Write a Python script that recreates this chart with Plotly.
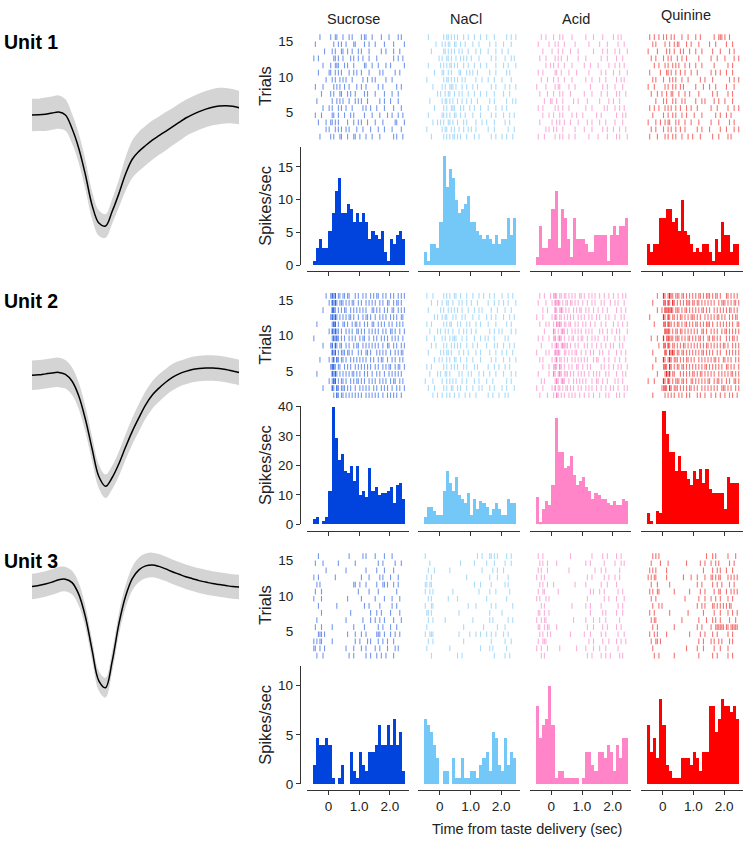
import plotly.graph_objects as go

W, H = 744, 845
FONT = "Liberation Sans, Arial, Helvetica, sans-serif"

# ---------------- data ----------------
tastes = ["Sucrose", "NaCl", "Acid", "Quinine"]
taste_colors = ["#0044DD", "#73C8F8", "#FF85C8", "#FF0000"]
raster_rgb = ["0,68,221", "100,190,245", "245,110,190", "235,0,0"]
units = ["Unit 1", "Unit 2", "Unit 3"]

bin_centers = [-0.45, -0.35, -0.25, -0.15, -0.05, 0.05, 0.15, 0.25, 0.35, 0.45,
               0.55, 0.65, 0.75, 0.85, 0.95, 1.05, 1.15, 1.25, 1.35, 1.45,
               1.55, 1.65, 1.75, 1.85, 1.95, 2.05, 2.15, 2.25, 2.35, 2.45]
bin_width = 0.1

raster_times = [-0.475, -0.425, -0.375, -0.325, -0.275, -0.225, -0.175, -0.125, -0.075, -0.025,
                0.025, 0.075, 0.125, 0.175, 0.225, 0.275, 0.325, 0.375, 0.425, 0.475,
                0.525, 0.575, 0.625, 0.675, 0.725, 0.775, 0.825, 0.875, 0.925, 0.975,
                1.025, 1.075, 1.125, 1.175, 1.225, 1.275, 1.325, 1.375, 1.425, 1.475,
                1.525, 1.575, 1.625, 1.675, 1.725, 1.775, 1.825, 1.875, 1.925, 1.975,
                2.025, 2.075, 2.125, 2.175, 2.225, 2.275, 2.325, 2.375, 2.425, 2.475]

trial_ticks = [5, 10, 15]
time_ticks = [0, 1, 2]
time_ticktext = ["0", "1.0", "2.0"]
rate_ticks_u1 = [0, 5, 10, 15]
rate_ticks_u2 = [0, 10, 20, 30, 40]
rate_ticks_u3 = [0, 5, 10]

psth_u1_sucrose = [0.67, 2.67, 4.0, 2.67, 2.67, 5.33, 8.0, 11.33, 13.33, 8.0,
                   8.0, 9.33, 8.67, 6.67, 8.0, 6.67, 8.0, 6.67, 4.0, 5.33,
                   4.67, 4.0, 5.33, 2.0, 0.67, 4.0, 3.33, 4.67, 5.33, 4.0]
psth_u1_nacl = [2.0, 0.67, 3.33, 3.33, 2.67, 6.67, 16.67, 12.0, 14.67, 13.33,
                10.0, 8.0, 8.67, 9.33, 10.67, 6.67, 6.67, 5.33, 4.67, 4.0,
                4.67, 4.0, 3.33, 4.67, 3.33, 4.0, 4.0, 7.33, 4.67, 7.33]
psth_u1_acid = [1.33, 6.0, 2.67, 2.67, 4.0, 8.67, 11.33, 2.67, 8.67, 7.33,
                4.0, 1.33, 7.33, 4.0, 4.0, 4.0, 3.33, 2.0, 2.0, 4.67,
                4.67, 4.67, 4.67, 0.67, 4.67, 6.0, 4.67, 6.0, 6.0, 7.33]
psth_u1_quinine = [3.33, 2.0, 3.33, 3.33, 7.33, 7.33, 8.67, 8.67, 6.67, 7.33,
                   5.33, 10.0, 5.33, 4.67, 3.33, 2.0, 2.67, 2.0, 3.33, 3.33,
                   2.0, 0.67, 4.0, 2.0, 6.67, 4.67, 4.67, 2.0, 3.33, 3.33]
psth_u2_sucrose = [2.0, 2.67, 0.0, 1.33, 2.67, 11.33, 40.0, 29.33, 22.0, 24.0,
                   18.0, 17.33, 20.0, 14.67, 20.0, 10.0, 11.33, 9.33, 19.33, 11.33,
                   12.67, 10.0, 10.67, 10.67, 11.33, 12.67, 7.33, 13.33, 14.0, 8.67]
psth_u2_nacl = [2.67, 6.0, 6.0, 4.67, 3.33, 3.33, 11.33, 18.0, 14.0, 11.33,
                16.0, 10.0, 8.67, 7.33, 10.67, 3.33, 8.67, 5.33, 8.0, 7.33,
                6.0, 3.33, 5.33, 7.33, 5.33, 3.33, 3.33, 8.67, 7.33, 7.33]
psth_u2_acid = [9.33, 0.67, 5.33, 8.0, 6.67, 13.33, 36.0, 24.67, 24.67, 19.33,
                20.0, 23.33, 16.67, 13.33, 14.67, 16.0, 12.67, 11.33, 8.67, 10.67,
                10.0, 8.67, 8.67, 7.33, 6.67, 8.0, 6.67, 6.67, 8.67, 8.0]
psth_u2_quinine = [4.0, 1.33, 0.0, 4.67, 4.0, 38.67, 30.67, 24.67, 24.67, 18.0,
                   23.33, 18.0, 18.0, 15.33, 13.33, 18.0, 15.33, 18.67, 14.0, 18.67,
                   12.0, 10.67, 10.67, 10.67, 10.67, 5.33, 16.0, 14.0, 14.0, 14.0]
psth_u3_sucrose = [2.0, 4.67, 4.0, 4.0, 4.67, 4.0, 0.67, 0.0, 0.67, 2.0,
                   0.0, 0.0, 3.33, 1.33, 0.67, 3.33, 2.0, 1.33, 3.33, 3.33,
                   4.0, 6.0, 4.0, 4.0, 6.0, 4.0, 6.67, 4.0, 5.33, 1.33]
psth_u3_nacl = [6.67, 6.0, 5.33, 4.0, 2.67, 0.0, 1.33, 1.33, 0.0, 2.67,
                0.67, 0.67, 2.67, 0.67, 0.67, 1.33, 1.33, 0.67, 2.0, 2.67,
                3.33, 1.33, 5.33, 4.67, 2.0, 1.33, 4.67, 2.0, 3.33, 2.67]
psth_u3_acid = [8.0, 4.67, 6.0, 6.67, 10.0, 6.0, 0.67, 1.33, 1.33, 0.67,
                0.67, 0.67, 0.67, 0.67, 0.0, 0.67, 3.33, 3.33, 2.0, 1.33,
                3.33, 3.33, 2.67, 4.0, 3.33, 1.33, 4.0, 2.67, 4.67, 4.67]
psth_u3_quinine = [6.0, 3.33, 4.67, 2.67, 8.67, 6.0, 2.0, 1.33, 0.67, 0.67,
                   0.67, 2.67, 2.67, 2.67, 2.0, 3.33, 2.67, 1.33, 3.33, 3.33,
                   8.0, 8.0, 5.33, 6.67, 8.67, 8.0, 8.0, 7.33, 8.0, 6.67]

raster_u1_sucrose = [
    "....|..... .|..||...| ...|.|.....| .||...|... ..|....|.. ...|.|....",
    ".|........ ...|..|.|. .|....||.. ...|..|... |.....|... ..|......|",
    ".......|.. ..|.|...|| ..|..|...|. |....|.... ...|..|... .|...|....",
    "|..|...... ...||.|..| ....|.|..| ..|...|... .|........ ..|..|..|.",
    "......|... .|..|||... |.|...|... ...||...|. ..|....|.. |........|",
    "...|...... ||..|.|.|. ...|..|.|. .|....|... ...|.|.... ...|..|...",
    "........|. ..|.|..|.| .|...|.... ..|..|..|. |......|.. .|........",
    ".|....|... ...|.|.|.. |..|....|. .|..|..... ..|..|.... ....|..|..",
    ".....|.... .|.|...||. ..|.|..|.. ...|.|.... |.....|... .|...|....",
    "..|....... ..|..|.|.| ...|...|.| .|...|.... ...|..|... |....|....",
    "......|... |.|...|.|. .|...|.... ..|.|..|.. .|....|... ..|....|..",
    ".|...|.... ..||..|... |...|.|... ...|....|. ...|....|. .|...|..|.",
    "...|....|. .||.|.|... ..|...|..| .|...|.... |....|.... ...||....|",
    "........|. |...|.|.|. .|.|....|. ..|....|.. ..|...|... .|.....|..",
    "....|..... .|.|...||. ..|...||.. |...|...|. ...|...... ..|.|...|.",
]
raster_u1_nacl = [
    "..|....... ..|.||.|.| .|...|..|. ..|...|... |....|.... ...|..|..|",
    ".......|.. .|.|.||..| |..|..|... .|...|.... ..|...|... .|....|...",
    "....|..... ..||.|.|.| ..|.|...|. ...|..|... .|....|... |...|.....",
    ".........| .|..||.|.. |..|.|.|.. |....|.... ...|..|... ..|...|.|.",
    "..|....... |.|.|.||.| .|...|..|. ..|...|... |.....|... .|..|....|",
    "......|... .||..|.|.. ..||...|.| .|..|..... ..|...|... ...|.|....",
    ".|........ ..|.||.|.| .|..|.|... ...|...|.. .|...|.... |.....|...",
    ".....|.... .|.|..|||. |...|..|.. .|..|..... ...|..|... ..|..|...|",
    "........|. |..|.||..| ..|.|...|. ..|...|... |....|.... .|...|....",
    "...|...... .|.||.|.|. .|..|..|.. |...|..... ..|..|.... ...|...|.|",
    "......|... ..|.|..||| ...|.|...| ..|...|... .|....|... |..|......",
    "..|....... .||.|.|..| |..|..|... .|....|... ...|..|... .|...|..|.",
    ".....|..|. |.|..||.|. .|...|.|.. ...|...|.. |....|.... ..|..|....",
    ".|........ .|.||..|.| ..|..|..|. |..|...... .|...|.... ....|...|.",
    "....|..... ..|.|.|.|| .|.|...|.. ..|..|.... ...|..|... |..|...|..",
]
raster_u1_acid = [
    "...|..|... .|...|.|.. ...|...... ..|....|.. ...|...... |..|.|....",
    ".|......|. ..|.|...|. .....|.... ....|..... .|....|... ...|...|..",
    "....|..... |...|..|.. ..|....|.. .......|.. ...|..|... .|..|....|",
    "..|...|... ..|.|.|... |......|.. ..|....... ..|...|... ..|...|...",
    "......|..| .|..|...|. ...|...... .|...|.... |......|.. .|..|..|..",
    ".|..|..... ..||..|... .|....|... ....|..... ..|..|.... |...|....|",
    "...|...|.. .|..|...|. ...|...... ..|...|... .|...|.... ..|..|.|..",
    "|.....|... ..|.||.... .|...|.... .....|.... ...|..|... .|....|...",
    "..|....|.. .|...|.|.. ..|....... .|....|... ..|...|... ..|.|...|.",
    ".....|...| |..|...|.. ....|..|.. ...|...... .|.....|.. |...|.....",
    ".|..|..... ..|.|..|.. .|........ ..|...|... ....|.|... .|..|..|..",
    "....|...|. .|...|.|.. ...|..|... |........| ..|....... ..|...|.|.",
    "..|....... |..|.|..|. ..|....|.. ...|..|... .|...|.... .|....|...",
    "......|.|. .|.|...|.. .....|.... .|....|... ...|..|... |...|...|.",
    ".|...|.... ..|..|.|.. .|...|.... ....|..... |.....|... ..|.|....|",
]
raster_u1_quinine = [
    ".|..|..|.. |.|..|.|.. ..|...|... .|..|..... ...|..|||. |..|......",
    "...|.|.... .|..|..|.| |....|..|. ...|...... |...|..... .|...|....",
    "|.....|... ..|.|..|.. .|.|...|.. .|...|.... ..|....|.. ...|..|...",
    "..|..|.... |..|.|...| ..|..|.... ...|...... .|...|.... |.....|..|",
    "....|..|.. .|.|..|.|. |...|..|.. .|...|.... ...|...... ..|..|....",
    ".|......|. ..||.|..|. .|..|...|. ..|....... .|..|..|.. .|...|....",
    "...|.|.... |...|.|.|. ..|...|... ....|..|.. ..|....... ...|..|..|",
    "|...|..... .|.|..|.|. .|.|...... .|....|... |...|..... .|....|...",
    "..|...|..| ..|..||... |...|..|.. ...|...... ..|..|.... ..|..|....",
    ".....|.... |.|...|.|. ..|.|..... .|...|.|.. ...|..|... |....|....",
    ".|..|..|.. .|.|.|..|. .|...|..|. ..|....... .|...|.... ..|...|..|",
    "...|...... |..|..|.|. ..|..|.... |....|.... ....|..|.. .|..|.....",
    "|....|..|. .|.||...|. |...|...|. ...|...... .|....|... ...|..|...",
    "..|..|.... |..|.|..|. .|..|..... ..|..|.... |......|.. .|....|..|",
    ".|....|... .|.|..|.|. ..|...|..| ....|..... ..|...|... ..|.|.....",
]
raster_u2_sucrose = [
    "........|. .|2|2.||.| |.||...|.| ..|.|..|.| .||..|.|.. |.|..|.|.|",
    ".......... |.2|2|.||| .|.|.||..| .|..|.|.|. |..|.|..|| ..|.||.|..",
    "......|... ..22|.|.|. ||..|.|.|. |.|.|...|| .|.|..|.|. .||..|.|.|",
    ".......... .|2|2|.|.| .|.||.|..| ..|.||.|.. |..|.|.|.. |.|.|..||.",
    "..|....... ..|22.|..| |.|..|.||. |..|.|..|| ..|.|.|..| .|..|.|.|.",
    ".......... |.2|2||.|. .|.|.|..|| .|.|..|.|. |.|..|.|.. ||.|..|..|",
    "|......... ..|2|2|.|. |..|.|.|.. |.||..|..| .|..|.|.|. .|.|.|..|.",
    "......|... .|2.2|.||. .|.|..|.|| ..|.|.|.|. |.|..|..|| ..|.|..|.|",
    ".......... ..2|2.|.|| |.||.|...| .|..||.|.. .|.|.|.|.. |..|.|.||.",
    "....|..... |.|2.2|.|| .|..|.|.|. |.|.|..|.| ..|.||..|. .|.|..|.|.",
    ".......... .|22|.||.. |.|.|..|.| .|.|.|.|.. |.|..|.|.| |..|.||..|",
    "..|....... ..2|2|.|.| .|.|.||.|. |..|.|..|. .|.|..|..| .|.|.|.|..",
    ".......... |.|22.|.|| .|..|.|.|| .|.|..|.|. |..|.|.|.. |.||..|.|.",
    "......|... ..2|.2|.|| |.|.|..|.. |.|.|.|..| .|..|.|.|. .|..|.|..|",
    ".......... ...|.2|.|| .|.|.|.|.| .|..|.|.|. |.|..|..|. |.|.|..|..",
]
raster_u2_nacl = [
    ".|...|.... ..|.|.|..| |..|...|.. .|...|..|. ..|..|.... |...|..|..",
    "....|...|. .|..||..|. ..|.|..|.. |...|..... .|...|..|. .|..|....|",
    "..|....... |.|..|.|.| .|..|...|. ..|..|.|.. ...|...|.. ..|...|...",
    "......|.|. .|.||...|. |...|.|... .|...|.... |..|..|... .|...|..|.",
    ".|..|..... ..|.|.||.. .|.|...|.| ...|..|... .|....|... ...|..|...",
    "...|....|. |..|.|..|. ..|..|.|.. |..|...... ..|..|..|. |.....|..|",
    ".|....|... .|.|..|.|| |...|..|.. ..|...|..| .|...|.... ..|.|.....",
    "....|..|.. ..|.|..|.| .|.|...|.. .|..|..... |....|.|.. .|...|..|.",
    "..|....... |.|.||.|.. ..|..|..|. ...|..|... ..|...|... |..|...|..",
    "......|..| .|..|.|..| |..|...|.. .|....|... ...|..|... .|...|...|",
    ".|..|..... ..|.|..|.| .|...|.|.. ..|.|..... .|...|..|. ..|..|....",
    "...|....|. |..||.|... ..|.|...|. |....|..|. ..|...|... .|....|..|",
    "|....|.... .|..|.|.|. |...|..|.. ..|..|.... |...|..... ...|..|...",
    "..|...|... ..|.|..||. .|.|...|.. .|...|.|.. ..|..|.... |..|....|.",
    ".....|..|. .|..|.|..| ..|...|..| ...|...... .|..|...|. ..|.|.....",
]
raster_u2_acid = [
    "..|..|...| .|2|.||.|| .|.|.|..|| .|..|.|.|. .|..|..|.. |..|..|.|.",
    ".|....|... |.2|2|.|.| |.||.|.|.. |..|..|.|. ..|.|...|. .|.|...|..",
    "....|..|.. ..2|.|2|.| .|..|.|.|| ..|.|..|.. |..|..|... ..|..|..|.",
    "|...|..... |.2|.||.|. |.|.|..|.| .|..|.|..| .|...|.|.. .|...|.|..",
    "..|...|.|. .|.2|2|.|| .||..|.|.. |.|..|..|. ..|..|.... |..|..|..|",
    ".....|.... .2|.|.|2|. |..|.|.|.| ..|.|.|... .|.|..|..| ..|.|....|",
    ".|..|...|. .|2.|2|.|. .|.||..|.| |..|..|.|. |...|.|... .|..|..|..",
    "...|...... |.|2|.|2|| |.|..|.|.. .|.|..|..| ..|..|..|. |...|.|...",
    "|.....|.|. ..2|2|..|| .|.|.||..| ..|..|.|.. .|.|...|.. ..|..|..|.",
    "..|.|..... |.|2.||.|. |..|.|.|.| .|.|...|.| |...|..|.. .|..|...|.",
    "....|...|. .|2|.2|.|. .|.|..||.. |..|.|.... ..|.|..|.. |..|.|...|",
    ".|......|. .2|.|2|.|| |.|.|..|.| .|..|..|.| .|...|.|.. ..|...|.|.",
    "...|.|.... ..|2|.|2|. .|..|.|.|. |.|...|..| |..|..|... .|.|..|...",
    "|...|..... |.2.||.|.| |.|.|..|.| ..|.|.|..| ..|..|..|. |..|...|.|",
    "..|....|.. .|.2|.|.|. .|.|.|..|. .|..|..|.. .|...|.|.. ..|.|..|..",
]
raster_u2_quinine = [
    "......|... 2|.|2||.|| |.||.|.|.| .|.||.|.|| |.|.||.|.. .||.|.|.|.",
    "...|...... |2.2|.2|.| .|.|.|||.| |.||.|.|.| .|.|..|.|| |.|.|.||.|",
    "......|..| .2|2|2|.|| |.|.||.|.| .|.|.||.|. |..|.|.|.| .|.||.|.|.",
    ".|........ 2|.2|.||.| .||.|.|.|| |.|.|..|.| .|.|.||.|. |..|.|.||.",
    "....|..... |2.2||.|.| |.|.||.|.| .||.|.|.|| |.|..|.|.| .|.|.|..||",
    ".......... .2|2|.|.|| .||.|.|.|. |.|..||.|. .|.|.|..|. ||.|.|.|.|",
    "..|...|... 2.|2|||.|| |.|.|.||.| .|.||.|..| |.||.|.|.. .|.|.||.|.",
    ".......|.. |2.2|.||.| .|.||.|.|. |.|.|.|.|| .|.|.|.|.| |.|..|.|.|",
    "...|...... .2|.2|2|.| |.||.|.|.| .|.|.||.|. |.|..|.|.. .|.|.|.|.|",
    ".....|.... 2|.|2|.||| .|.|.||.|. |..|.|.|.| .|.||.|..| |.|.|..|.|",
    "...|...... |2|.2|.|.| |.||.|.|.| .|.|.|.||. |.|.|.|.|. .||.|.|..|",
    "......|... .|2|2.||.. .|.|.|.|.| |.|.||.|.| .|.|..|.|. |.|.||.|.|",
    "|...|..... 2|.2|.|.|| |.||.|..|| .|.|.|.|.| |..|.||.|. .|.|..||.|",
    ".........| |2|.2|.||| .|.|.|.||. |.|..|.|.| .|.|.|..|| |.|.|..|.|",
    "...|...... .|.|.|.|.. |.|..|.|.. ..|.|..|.. .|..|..|.. |..|.|..|.",
]
raster_u3_sucrose = [
    "...|...... .......... ...|...... ..|.|..... |.....|... .|........",
    ".|....|... ......|... .......|.. .......... ..|..|.... ...|...|..",
    "........|. .......... .|........ ....|..... .|....|... ..|.......",
    "|..|...... ....|..... .......... .|....|... ...|.|.... |....|....",
    "..|.|..... .......... ......||.. |...|..... .|...||.|. ..|..|....",
    ".|...|.... .......... .........| ......|... ..|....... ....|.....",
    "|....|.... .......... ..|....... .|........ |.....|... .|....|...",
    "...|...... .....|.... .......... ...|..|... ...|...... .|..|.....",
    ".....|.... .......... ....|..... .......|.. .|..|..... |.....|...",
    "..|....... .......... .|........ ..|....|.. |..|..|... ..|....|..",
    ".|...|.... ..|....... ......|... ...|...... ..|..|.... |...|.....",
    "...|||.|.. .......... ..|....|.. .|..|..... .|||..|.. .|..|..|...",
    "|.|.||.... ..|....... .......|.. |....|.|.. ..|..|..|. ..|.......",
    "||..|..|.. .......... .|....|... .|..|..... |..|....|. ...|.|....",
    "..|...|... .......... ...|..|... ....|..|.. .|..|..|.. ..|.......",
]
raster_u3_nacl = [
    "|......... .......... .......... ....|..|.. ..||.|.|.. ...|..|...",
    "...|...... .......... ...|...... ..|....... |....|.... ..|...|...",
    "..|...|... ......|... .......... .......|.. ....|..|.. .|........",
    ".|..|..... .......... .......|.. .......... ..|....|.. ....|.....",
    "||.||..... .......... .......... ..|...|... ...|...... ..|.|.....",
    "|..|.|.... ........|. .......... .....|.... ..|...|... .....|....",
    "..|.|..... .....|.... .|........ .......... |......... ...|......",
    "|...||.... .......... ........|. ...|...... ...|..|... .......|..",
    ".||.|..... .......... ..|....... .......... ..|....... |.........",
    "..|..|.... ...|...... .......... .|........ ..|.|..... ....|..|..",
    ".|........ .......... .....|.... ........|. .......|.. ..|.......",
    "|..|||.... .......... ..|......| ...|..|... |..|..|... .|..|.....",
    "..|..|.... .......... .....|.... .......... ...|...... ..|...|...",
    ".|........ ......|... .......... ......|... ..|.|..... ...|......",
    "....|..... .......... .|..|..... .......... .....|.... ..|..|....",
]
raster_u3_acid = [
    ".|..|..... .......... ..|....... ......|... ...|..|... ..|..|....",
    "..|.|..|.. ...|...... .......... ..|..|.... ....|..... .|...|.|..",
    ".|.|...|.. .......... .|........ ........|. ..|..|.... ....|.....",
    "|..|.|.... .......... .......... ...|..|... ....|..|.. .|..|.....",
    "..|.|..|.. .|........ .....|.... ..|....... ..|...|... ..|.......",
    ".|..||.... ....|..... .......... .....|.|.. .|..|..... ...|..|...",
    "|.|...|.|. .......... .......... ...|...... ....|..|.. ..|....|..",
    "...|.|.... .......... ...|...... ..|..|.... ..|....... ...|..|...",
    ".||..|..|. .......... .......... .....|.... ...|.|.... ..|...|...",
    "|..|.||... .......... ....|..... ..|....|.. .|...|.... ....|.....",
    ".||..|.||. ...|...... .......... ...|...|.. ...|..|... ..|..|....",
    "..|.|..|.| .......... ..|....... .|...|.... ..|..|.... ...|...|..",
    ".|..|||... .......... .......... ....|..|.. ...|...|.. ..|..|..|.",
    "|..|...|.. .....|.... ......|... ..|....|.. .|...|.... ...|......",
    "...|.|.... .......... .......... ...|..|... ..|..|..|. ....|.|...",
]
raster_u3_quinine = [
    "...|.|.|.. .......... .......... ........|. ..|.|..... ..|....|..",
    "..|.....|. ...|...... .....|.... ....|..|.. .|..|.|... ...|..|...",
    ".|.|.|.... ..|....... .......... ......|... ..|..|.|.. .|...|....",
    "|.|.||.... ..|....... ...|....|. ..|....|.. .||.|.||.. ..|.|.|.|.",
    "..|...|... ....|..... .......... ..|..|.... ..|..|..|. ...|..|...",
    ".|.|..||.. .......|.. .......|.. ....|..|.. ...|..||.. .|..|.|.|.",
    "..|..|.... .......... ....|..... ...|...|.. .|..|..|.. ..|..|....",
    "...|...|.| .......... .......... ..|..|.|.. ..||.|.|.| .|.||.....",
    ".|..|..... ....|..... ......|... ......|... ...|...|.. ..|..|..|.",
    "..|.||.... .......... ..|....... ...|....|. ..|.|..|.. ...|...|..",
    "...|..|... .......|.. .......... ..|..|.... .|..|||||| .||.|||||.",
    ".|..|.|... ..|....... .......|.. ....|..|.. ..|..|.... ..|..|....",
    "..|..||.|. .......... .......... ...|..|... .|.|..|.|. ...|.|....",
    "...|...... .......... .....|.... ..|...|... ...|...|.. ..|.......",
    "....|..|.. .......|.. .......... ...|...... ..|..|.... ..|..|....",
]

wave_samples = [0, 1, 2, 3, 4, 5, 6, 7, 8, 9, 10, 11, 12, 13, 14, 15,
                16, 17, 18, 19, 20, 21, 22, 23, 24, 25, 26, 27, 28, 29, 30, 31]
wave_u1_mean = [0, 0.2, 0.8, 2, 3, 0, -14, -34, -61, -92, -110, -113, -98, -80, -60, -45,
                -37, -31, -25.5, -21, -16.5, -12, -7.5, -3, 0.5, 3.5, 6, 8, 9.2, 9.5, 9, 7.5]
wave_u1_sd = [16.5, 16.5, 17, 17, 17, 16, 15, 15, 15, 14, 13, 12, 12.5, 14, 17, 19,
              20, 20, 20, 19.5, 19.5, 19, 19, 18.5, 18.5, 18.5, 18.5, 18.5, 18.5, 18, 17.5, 17]
wave_u2_mean = [0, 0.5, 1.5, 2.5, 3, 1, -6, -21, -45, -75, -103, -113, -104, -90, -73, -57,
                -43, -30, -20, -13, -7, -2, 1.5, 4, 6, 7, 7.5, 7.5, 7, 6, 4.5, 3]
wave_u2_sd = [15, 15, 15, 15, 15, 14.5, 14, 13.5, 13, 12.5, 12, 12, 12, 12.5, 13, 13.5,
              14, 14, 14, 14, 13.5, 13.5, 13, 13, 13, 13, 13, 13, 13, 13, 13, 13]
wave_u3_mean = [0, 1, 2.5, 4.5, 7, 7.5, 4, -8, -31, -65, -96, -103, -76, -38, -10, 8,
                17, 21, 22, 20.5, 18, 15, 12.5, 10, 8, 6, 4.5, 3, 2, 1, 0, -0.5]
wave_u3_sd = [13, 13, 13, 13, 13, 12.5, 12, 11.5, 11, 10.5, 10, 10, 10.5, 11, 11.5, 12,
              12.5, 12.5, 12.5, 12.5, 12.5, 12.5, 12.5, 12.5, 12.5, 12.5, 12.5, 12.5, 12.5, 12.5, 12.5, 12.5]

psth_table = [[psth_u1_sucrose, psth_u1_nacl, psth_u1_acid, psth_u1_quinine],
              [psth_u2_sucrose, psth_u2_nacl, psth_u2_acid, psth_u2_quinine],
              [psth_u3_sucrose, psth_u3_nacl, psth_u3_acid, psth_u3_quinine]]
raster_table = [[raster_u1_sucrose, raster_u1_nacl, raster_u1_acid, raster_u1_quinine],
                [raster_u2_sucrose, raster_u2_nacl, raster_u2_acid, raster_u2_quinine],
                [raster_u3_sucrose, raster_u3_nacl, raster_u3_acid, raster_u3_quinine]]
wave_table = [(wave_u1_mean, wave_u1_sd), (wave_u2_mean, wave_u2_sd), (wave_u3_mean, wave_u3_sd)]
rate_ticks = [rate_ticks_u1, rate_ticks_u2, rate_ticks_u3]

# ---------------- layout geometry (pixels) ----------------
def fx(px):
    return px / W

def fy(py):
    return 1 - py / H

COL_X0 = [328.4, 439.85, 551.3, 662.75]
PX_PER_S = 30.7
X_RANGE = [-0.70, 2.61]
AXIS_X = 300.0

R_LABEL5 = [107.3, 370.7, 635.7]
PX_PER_TRIAL = 7.23
R_RANGE = [1.0, 16.2]

H_ZERO = [262.7, 526.7, 791.0]
H_PX_PER_UNIT = [6.667, 3.0, 10.0]
H_TOP = [18.1, 40.2, 12.05]
H_XLINE = [268.3, 533.3, 797.3]

WAVE_X = [32.0, 239.2]
WAVE_BASE = [110.0, 375.0, 590.0]
WAVE_RANGE = [-140.0, 50.0]

AX_COLOR = "#333333"
TXT_COLOR = "#222222"
tickfont = dict(family=FONT, size=13.5, color=TXT_COLOR)

fig = go.Figure()
layout = {}
annotations = []
n_ax = [0]

def new_axes():
    n_ax[0] += 1
    k = n_ax[0]
    return k, ("x" if k == 1 else f"x{k}"), ("y" if k == 1 else f"y{k}"), \
        ("xaxis" if k == 1 else f"xaxis{k}"), ("yaxis" if k == 1 else f"yaxis{k}")

def rgba(rgb, a):
    return f"rgba({rgb},{a})"

for u in range(3):
    k, xr, yr, xk, yk = new_axes()
    mean, sd = wave_table[u]
    upper = [m + s for m, s in zip(mean, sd)]
    lower = [m - s for m, s in zip(mean, sd)]
    fig.add_trace(go.Scatter(x=wave_samples, y=upper, mode="lines", line=dict(width=0, shape="spline"),
                             xaxis=xr, yaxis=yr, showlegend=False, hoverinfo="skip"))
    fig.add_trace(go.Scatter(x=wave_samples, y=lower, mode="lines", line=dict(width=0, shape="spline"),
                             fill="tonexty", fillcolor="#D4D4D4",
                             xaxis=xr, yaxis=yr, showlegend=False, hoverinfo="skip"))
    fig.add_trace(go.Scatter(x=wave_samples, y=mean, mode="lines",
                             line=dict(color="black", width=1.5, shape="spline"),
                             xaxis=xr, yaxis=yr, showlegend=False, hoverinfo="skip"))
    top_px = WAVE_BASE[u] - WAVE_RANGE[1]
    bot_px = WAVE_BASE[u] - WAVE_RANGE[0]
    layout[xk] = dict(domain=[fx(WAVE_X[0]), fx(WAVE_X[1])], range=[wave_samples[0], wave_samples[-1]],
                      visible=False, anchor=yr)
    layout[yk] = dict(domain=[fy(bot_px), fy(top_px)], range=WAVE_RANGE, visible=False, anchor=xr)

    annotations.append(dict(text=f"<b>{units[u]}</b>", x=fx(2), y=fy(R_LABEL5[u] - 71.5),
                            xref="paper", yref="paper", xanchor="left", yanchor="middle",
                            showarrow=False, font=dict(family=FONT, size=19.5, color="black")))

    for c in range(4):
        x0 = COL_X0[c]
        xdom = [fx(x0 + X_RANGE[0] * PX_PER_S), fx(x0 + X_RANGE[1] * PX_PER_S)]

        k, xr, yr, xk, yk = new_axes()
        rows = raster_table[u][c]
        ntr = len(rows)
        xs1, ys1, xs2, ys2 = [], [], [], []
        for r, row in enumerate(rows):
            trial = ntr - r
            s = row.replace(" ", "").ljust(60, ".")[:60]
            for j, ch in enumerate(s):
                if ch == ".":
                    continue
                cnt = 1 if ch == "|" else int(ch)
                t = raster_times[j]
                if cnt == 1:
                    xs1 += [t, t, None]
                    ys1 += [trial + 0.2, trial + 1.0, None]
                else:
                    xs2 += [t, t, None]
                    ys2 += [trial + 0.2, trial + 1.0, None]
        fig.add_trace(go.Scatter(x=xs1, y=ys1, mode="lines",
                                 line=dict(color=rgba(raster_rgb[c], 0.55), width=1.1),
                                 xaxis=xr, yaxis=yr, showlegend=False, hoverinfo="skip"))
        if xs2:
            fig.add_trace(go.Scatter(x=xs2, y=ys2, mode="lines",
                                     line=dict(color=rgba(raster_rgb[c], 0.85), width=1.3),
                                     xaxis=xr, yaxis=yr, showlegend=False, hoverinfo="skip"))
        p_top = R_LABEL5[u] - (R_RANGE[1] - 5) * PX_PER_TRIAL
        p_bot = R_LABEL5[u] - (R_RANGE[0] - 5) * PX_PER_TRIAL
        layout[xk] = dict(domain=xdom, range=X_RANGE, visible=False, anchor=yr)
        if c == 0:
            layout[yk] = dict(domain=[fy(p_bot), fy(p_top)], range=R_RANGE, anchor="free",
                              position=fx(AXIS_X), showline=False, showgrid=False, zeroline=False,
                              tickvals=trial_ticks, ticks="outside", ticklen=4,
                              tickcolor="rgba(0,0,0,0)", tickfont=tickfont)
            annotations.append(dict(text="Trials", x=fx(265), y=fy((p_top + p_bot) / 2 - 1),
                                    xref="paper", yref="paper", textangle=-90,
                                    xanchor="center", yanchor="middle", showarrow=False,
                                    font=dict(family=FONT, size=16.5, color=TXT_COLOR)))
        else:
            layout[yk] = dict(domain=[fy(p_bot), fy(p_top)], range=R_RANGE, visible=False, anchor=xr)

        k, xr, yr, xk, yk = new_axes()
        fig.add_trace(go.Bar(x=bin_centers, y=psth_table[u][c], width=bin_width,
                             marker=dict(color=taste_colors[c], line=dict(width=0)),
                             xaxis=xr, yaxis=yr, showlegend=False, hoverinfo="skip"))
        h_top_px = H_ZERO[u] - H_TOP[u] * H_PX_PER_UNIT[u]
        layout[xk] = dict(domain=xdom, range=X_RANGE, anchor="free", position=fy(H_XLINE[u]),
                          showline=True, linecolor=AX_COLOR, linewidth=1.3,
                          ticks="outside", ticklen=4, tickwidth=1.2, tickcolor=AX_COLOR,
                          tickvals=time_ticks, ticktext=time_ticktext,
                          showticklabels=(u == 2), tickfont=tickfont,
                          showgrid=False, zeroline=False)
        if c == 0:
            layout[yk] = dict(domain=[fy(H_ZERO[u]), fy(h_top_px)], range=[0, H_TOP[u]],
                              anchor="free", position=fx(AXIS_X),
                              showline=True, linecolor=AX_COLOR, linewidth=1.3,
                              ticks="outside", ticklen=4, tickwidth=1.2, tickcolor=AX_COLOR,
                              tickvals=rate_ticks[u], tickfont=tickfont,
                              showgrid=False, zeroline=False)
            annotations.append(dict(text="Spikes/sec", x=fx(265), y=fy((H_ZERO[u] + h_top_px) / 2),
                                    xref="paper", yref="paper", textangle=-90,
                                    xanchor="center", yanchor="middle", showarrow=False,
                                    font=dict(family=FONT, size=16.5, color=TXT_COLOR)))
        else:
            layout[yk] = dict(domain=[fy(H_ZERO[u]), fy(h_top_px)], range=[0, H_TOP[u]],
                              visible=False, anchor=xr)

header_pos = [(353, 12), (466, 12), (576, 12), (686, 8.5)]
for c in range(4):
    annotations.append(dict(text=tastes[c], x=fx(header_pos[c][0]), y=fy(header_pos[c][1]),
                            xref="paper", yref="paper", xanchor="center", yanchor="middle",
                            showarrow=False, font=dict(family=FONT, size=14.5, color=TXT_COLOR)))

annotations.append(dict(text="Time from taste delivery (sec)", x=fx(526.7), y=fy(836.5),
                        xref="paper", yref="paper", xanchor="center", yanchor="middle",
                        showarrow=False, font=dict(family=FONT, size=14.5, color=TXT_COLOR)))

fig.update_layout(width=W, height=H, margin=dict(l=0, r=0, t=0, b=0),
                  paper_bgcolor="white", plot_bgcolor="white",
                  font=dict(family=FONT, color=TXT_COLOR), annotations=annotations,
                  bargap=0, **layout)

fig.write_html("out.html", config={"displayModeBar": False},
               post_script="document.body.style.margin='0';document.body.style.overflow='hidden';")
